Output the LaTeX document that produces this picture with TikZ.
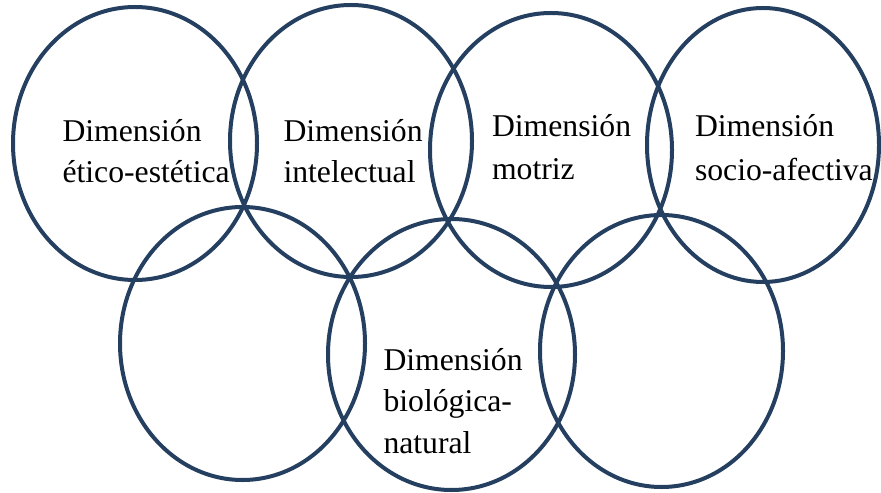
\documentclass[tikz,border=0pt]{standalone}
\usepackage{fontspec}
\setmainfont{Liberation Serif}
\usetikzlibrary{shapes.geometric}
\definecolor{ringblue}{HTML}{243F60}
\tikzset{
  ring/.style={ellipse, draw=ringblue, line width=4bp, inner sep=0pt, outer sep=0pt},
  lbl/.style={anchor=base west, inner sep=0pt, outer sep=0pt, font=\fontsize{31.7bp}{40bp}\selectfont, text=black}
}
\begin{document}
\begin{tikzpicture}[x=1bp, y=-1bp]
\useasboundingbox (0,0) rectangle (881,493);
% rings
\node[ring, minimum width=244bp, minimum height=273bp] (e1) at (135,143.5) {};
\node[ring, minimum width=242bp, minimum height=272bp] (e2) at (351,141) {};
\node[ring, minimum width=242bp, minimum height=274bp] (e3) at (551,150) {};
\node[ring, minimum width=232bp, minimum height=274bp] (e4) at (763,145) {};
\node[ring, minimum width=245bp, minimum height=273bp] (e5) at (242.5,343.5) {};
\node[ring, minimum width=247bp, minimum height=271bp] (e6) at (451.5,354.5) {};
\node[ring, minimum width=243bp, minimum height=272bp] (e7) at (661.5,351) {};
% labels
\node[lbl] (t1a) at (62.5,142) {Dimensión};
\node[lbl] (t1b) at (62.5,183) {ético-estética};
\node[lbl] (t2a) at (283.5,142) {Dimensión};
\node[lbl] (t2b) at (283.5,183) {intelectual};
\node[lbl] (t3a) at (492,137) {Dimensión};
\node[lbl] (t3b) at (492,179.5) {motriz};
\node[lbl] (t4a) at (695,137) {Dimensión};
\node[lbl] (t4b) at (695,180.5) {socio-afectiva};
\node[lbl] (t6a) at (383.5,370) {Dimensión};
\node[lbl] (t6b) at (383.5,411.7) {biológica-};
\node[lbl] (t6c) at (383.5,453) {natural};
\end{tikzpicture}
\end{document}
